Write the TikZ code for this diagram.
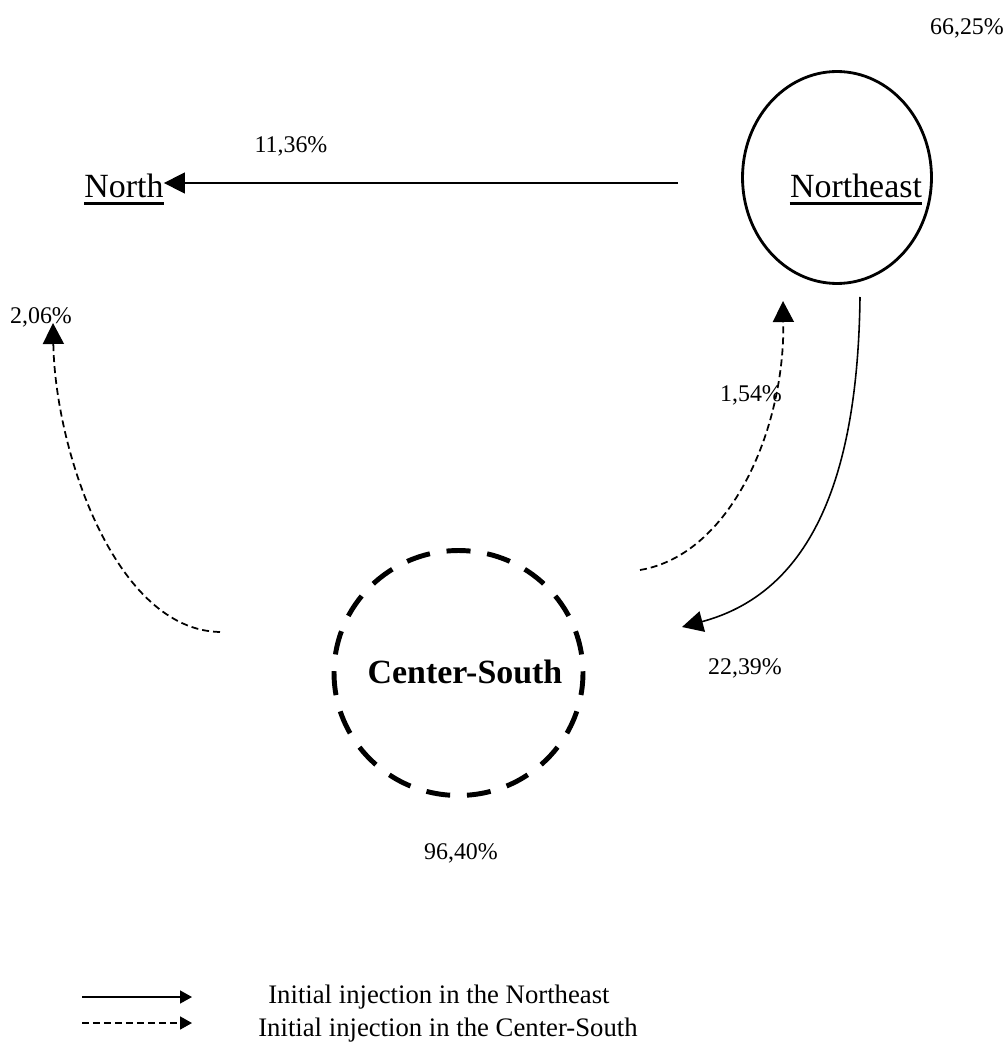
\documentclass[tikz,border=0pt]{standalone}
\usepackage{fontspec}
\setmainfont{Liberation Serif}
\usetikzlibrary{shapes.geometric,arrows.meta}
\begin{document}
\begin{tikzpicture}[x=0.02cm,y=-0.02cm,
  pct/.style={font=\fontsize{13.6}{16}\selectfont, inner sep=0},
  region/.style={font=\fontsize{19.3}{22}\selectfont, inner sep=0, anchor=base},
  legtext/.style={font=\fontsize{15.2}{18}\selectfont, inner sep=0, anchor=west},
  uline/.style={line width=1.5pt},
  bigtip/.style={-{Triangle[length=0.42cm,width=0.42cm]}},
  smalltip/.style={-{Triangle[length=0.24cm,width=0.26cm]}},
  flowNE/.style={line width=0.9pt},
  flowCS/.style={line width=1pt, dash pattern=on 0.14cm off 0.08cm},
  nebox/.style={draw, ellipse, line width=1.6pt, minimum width=3.78cm, minimum height=4.24cm, inner sep=0},
  csbox/.style={draw, ellipse, line width=2.8pt, dash pattern=on 0.48cm off 0.337cm, dash phase=0.445cm, minimum width=4.98cm, minimum height=4.9cm, inner sep=0}
]
\useasboundingbox (0,0) rectangle (1006,1047);

% regions
\node[nebox] (ne) at (837,177.5) {};
\node[region] (netext) at (856,198) {Northeast};
\draw[uline] ([yshift=-0.11cm]netext.base west) -- ([yshift=-0.11cm]netext.base east);

\node[region] (north) at (124,198) {North};
\draw[uline] ([yshift=-0.11cm]north.base west) -- ([yshift=-0.11cm]north.base east);

\node[csbox] (cs) at (458.5,673) {};
\node[font=\fontsize{19.3}{22}\selectfont\bfseries, inner sep=0] (cstext) at (465,672) {Center-South};

% percentages
\node[pct] (p6625) at (967,28) {66,25\%};
\node[pct] (p1136) at (291,146) {11,36\%};
\node[pct] (p0206) at (41,317) {2,06\%};
\node[pct] (p0154) at (751,395) {1,54\%};
\node[pct] (p2239) at (745,668) {22,39\%};
\node[pct] (p9640) at (461,853) {96,40\%};

% connector end points
\coordinate (neW) at (678,183);
\coordinate (neS) at (860,297);
\coordinate (csE) at (682,627);
\coordinate (csNE) at (640,570);
\coordinate (neSW) at (783,301);
\coordinate (csW) at (220,632);
\coordinate (northS) at (53,323);

% flows
\draw[flowNE,bigtip] (neW) -- (neW -| north.east);
\draw[flowNE,bigtip] (neS) .. controls (858,460) and (820,590) .. (csE);
\draw[flowCS,bigtip] (csNE) .. controls (730,555) and (785,430) .. (neSW);
\draw[flowCS,bigtip] (csW) .. controls (115,630) and (55,450) .. (northS);

% legend
\coordinate (l1a) at (82,997);
\coordinate (l1b) at (192,997);
\coordinate (l2a) at (82,1023);
\coordinate (l2b) at (192,1023);
\draw[flowNE,smalltip] (l1a) -- (l1b);
\draw[flowCS,smalltip] (l2a) -- (l2b);
\node[legtext] (leg1) at (268,997) {Initial injection in the Northeast};
\node[legtext] (leg2) at (258,1030) {Initial injection in the Center-South};
\end{tikzpicture}
\end{document}
